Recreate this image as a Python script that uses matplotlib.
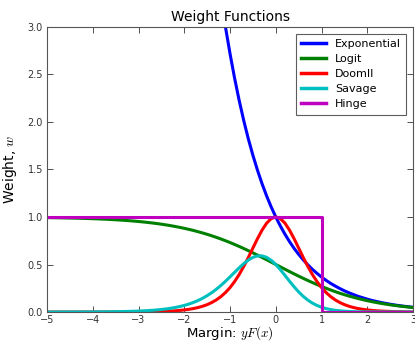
import matplotlib
matplotlib.use("Agg")
import matplotlib.pyplot as plt

plt.rcParams['mathtext.fontset'] = 'cm'

margin = [-5.0, -4.9, -4.8, -4.7, -4.6, -4.5, -4.4, -4.3, -4.2, -4.1,
          -4.0, -3.9, -3.8, -3.7, -3.6, -3.5, -3.4, -3.3, -3.2, -3.1,
          -3.0, -2.9, -2.8, -2.7, -2.6, -2.5, -2.4, -2.3, -2.2, -2.1,
          -2.0, -1.9, -1.8, -1.7, -1.6, -1.5, -1.4, -1.3, -1.2, -1.1,
          -1.0, -0.9, -0.8, -0.7, -0.6, -0.5, -0.4, -0.3, -0.2, -0.1,
          0.0, 0.1, 0.2, 0.3, 0.4, 0.5, 0.6, 0.7, 0.8, 0.9,
          1.0, 1.1, 1.2, 1.3, 1.4, 1.5, 1.6, 1.7, 1.8, 1.9,
          2.0, 2.1, 2.2, 2.3, 2.4, 2.5, 2.6, 2.7, 2.8, 2.9,
          3.0]

exponential = [148.41, 134.29, 121.51, 109.95, 99.48, 90.02, 81.45, 73.70, 66.69, 60.34,
               54.60, 49.40, 44.70, 40.45, 36.60, 33.12, 29.96, 27.11, 24.53, 22.20,
               20.09, 18.17, 16.44, 14.88, 13.46, 12.18, 11.02, 9.97, 9.03, 8.17,
               7.39, 6.69, 6.05, 5.47, 4.95, 4.48, 4.06, 3.67, 3.32, 3.00,
               2.718, 2.460, 2.226, 2.014, 1.822, 1.649, 1.492, 1.350, 1.221, 1.105,
               1.000, 0.905, 0.819, 0.741, 0.670, 0.607, 0.549, 0.497, 0.449, 0.407,
               0.368, 0.333, 0.301, 0.273, 0.247, 0.223, 0.202, 0.183, 0.165, 0.150,
               0.135, 0.122, 0.111, 0.100, 0.091, 0.082, 0.074, 0.067, 0.061, 0.055,
               0.050]

logit = [0.9933, 0.9926, 0.9918, 0.9910, 0.9900, 0.9890, 0.9879, 0.9866, 0.9852, 0.9837,
         0.9820, 0.9802, 0.9781, 0.9759, 0.9734, 0.9707, 0.9677, 0.9644, 0.9608, 0.9569,
         0.9526, 0.9478, 0.9427, 0.9370, 0.9309, 0.9241, 0.9168, 0.9089, 0.9002, 0.8909,
         0.8808, 0.8699, 0.8581, 0.8455, 0.8320, 0.8176, 0.8022, 0.7858, 0.7685, 0.7503,
         0.7311, 0.7109, 0.6900, 0.6682, 0.6457, 0.6225, 0.5987, 0.5744, 0.5498, 0.5250,
         0.5000, 0.4750, 0.4502, 0.4256, 0.4013, 0.3775, 0.3543, 0.3318, 0.3100, 0.2891,
         0.2689, 0.2497, 0.2315, 0.2142, 0.1978, 0.1824, 0.1680, 0.1545, 0.1419, 0.1301,
         0.1192, 0.1091, 0.0998, 0.0911, 0.0832, 0.0759, 0.0691, 0.0630, 0.0573, 0.0522,
         0.0474]

doom2 = [0.0, 0.0, 0.0, 0.0, 0.0, 0.0, 0.0, 0.0001, 0.0001, 0.0001,
         0.0001, 0.0002, 0.0002, 0.0003, 0.0004, 0.0005, 0.0006, 0.0008, 0.0010, 0.0013,
         0.0016, 0.0021, 0.0028, 0.0036, 0.0046, 0.0060, 0.0078, 0.0101, 0.0130, 0.0169,
         0.0218, 0.0282, 0.0364, 0.0470, 0.0605, 0.0778, 0.0998, 0.1274, 0.1618, 0.2049,
         0.2574, 0.3206, 0.3949, 0.4800, 0.5740, 0.6732, 0.7716, 0.8620, 0.9353, 0.9833,
         1.0000, 0.9833, 0.9353, 0.8620, 0.7716, 0.6732, 0.5740, 0.4800, 0.3949, 0.3206,
         0.2574, 0.2049, 0.1618, 0.1274, 0.0998, 0.0778, 0.0605, 0.0470, 0.0364, 0.0282,
         0.0218, 0.0169, 0.0130, 0.0101, 0.0078, 0.0060, 0.0046, 0.0036, 0.0028, 0.0021,
         0.0016]

savage = [0.0002, 0.0002, 0.0003, 0.0003, 0.0004, 0.0005, 0.0006, 0.0007, 0.0009, 0.0011,
          0.0013, 0.0016, 0.0020, 0.0024, 0.0030, 0.0036, 0.0044, 0.0054, 0.0066, 0.0081,
          0.0098, 0.0120, 0.0146, 0.0178, 0.0217, 0.0264, 0.0321, 0.0390, 0.0473, 0.0574,
          0.0694, 0.0837, 0.1008, 0.1210, 0.1446, 0.1721, 0.2037, 0.2396, 0.2797, 0.3234,
          0.3699, 0.4179, 0.4652, 0.5092, 0.5469, 0.5749, 0.5904, 0.5909, 0.5754, 0.5444,
          0.5000, 0.4457, 0.3857, 0.3243, 0.2653, 0.2115, 0.1647, 0.1256, 0.0939, 0.0691,
          0.0501, 0.0358, 0.0254, 0.0178, 0.0124, 0.0086, 0.0059, 0.0040, 0.0028, 0.0019,
          0.0013, 0.0009, 0.0006, 0.0004, 0.0003, 0.0002, 0.0001, 0.0001, 0.0001, 0.0,
          0.0]

hinge_x = [-5.0, 1.0, 1.0, 3.0]
hinge_w = [1.0, 1.0, 0.0, 0.0]

fig = plt.figure(figsize=(4.15, 3.41), dpi=100)
ax = fig.add_axes([0.1133, 0.085, 0.882, 0.836])

lw = 2.2
ax.plot(margin, exponential, color='#0000ff', lw=lw, label='Exponential')
ax.plot(margin, logit, color='#008000', lw=lw, label='Logit')
ax.plot(margin, doom2, color='#ff0000', lw=lw, label='DoomII')
ax.plot(margin, savage, color='#00bfbf', lw=lw, label='Savage')
ax.plot(hinge_x, hinge_w, color='#bf00bf', lw=lw, label='Hinge')

ax.set_xlim(-5, 3)
ax.set_ylim(0, 3)
ax.set_xticks([-5, -4, -3, -2, -1, 0, 1, 2, 3])
ax.set_yticks([0.0, 0.5, 1.0, 1.5, 2.0, 2.5, 3.0])
ax.set_yticklabels(['0.0', '0.5', '1.0', '1.5', '2.0', '2.5', '3.0'])
ax.tick_params(direction='in', top=True, right=True, length=4, width=0.6,
               labelsize=7, colors='#333333', pad=3)
ax.tick_params(axis='x', pad=2)
for s in ax.spines.values():
    s.set_color('#555555')
    s.set_linewidth(0.8)

ax.set_title('Weight Functions', fontsize=10, pad=4)
ax.set_xlabel('Margin: $yF(x)$', fontsize=9.5, labelpad=-0.5)
ax.set_ylabel('Weight, $w$', fontsize=10, labelpad=6)

leg = ax.legend(loc='upper right', fontsize=8, frameon=True, fancybox=False,
                borderaxespad=0.6, handlelength=2.2, labelspacing=0.45,
                borderpad=0.5)
leg.get_frame().set_edgecolor('#333333')
leg.get_frame().set_linewidth(0.8)
for line in leg.get_lines():
    line.set_linewidth(2.5)

fig.savefig('out.png', dpi=100)
